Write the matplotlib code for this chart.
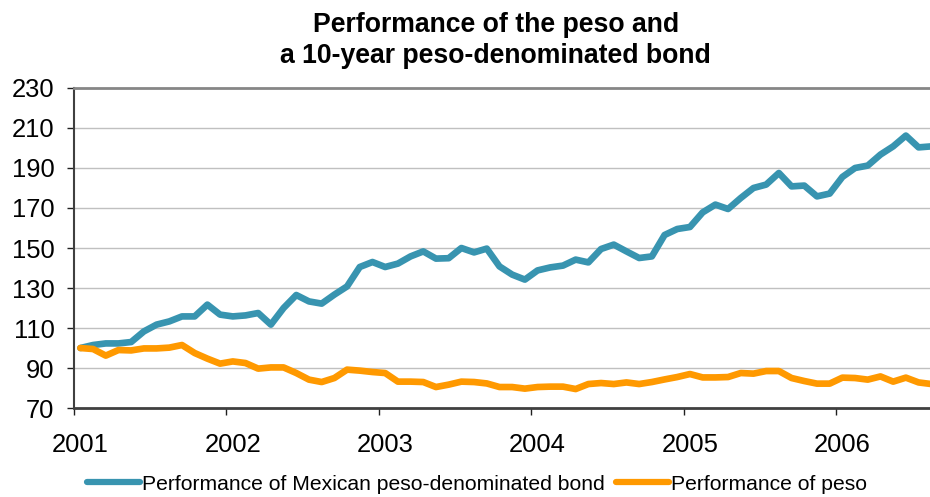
import matplotlib
matplotlib.use('Agg')
import matplotlib.pyplot as plt
import numpy as np

# monthly index values, Jan 2001 onwards
bond = [100.0, 101.5, 102.3, 102.3, 103.0, 108.3, 111.7, 113.3, 115.8, 115.8,
        121.7, 116.7, 115.8, 116.3, 117.5, 111.7, 120.0, 126.5, 123.3, 122.2,
        126.7, 130.8, 140.5, 143.0, 140.5, 142.2, 145.8, 148.3, 144.7, 144.9,
        150.0, 147.8, 149.7, 140.8, 136.7, 134.2, 138.8, 140.3, 141.2, 144.2,
        142.8, 149.5, 151.7, 148.3, 145.0, 145.8, 156.5, 159.5, 160.5, 167.8,
        171.7, 169.5, 175.0, 180.0, 181.7, 187.5, 180.8, 181.2, 175.8, 177.2,
        185.5, 190.0, 191.2, 196.7, 200.8, 206.2, 200.3, 200.8]
peso = [100.0, 99.5, 96.2, 99.0, 98.8, 99.8, 99.8, 100.2, 101.5, 97.5,
        94.7, 92.2, 93.3, 92.5, 89.7, 90.3, 90.3, 87.5, 84.2, 83.0,
        85.0, 89.2, 88.7, 88.0, 87.5, 83.2, 83.2, 83.0, 80.5, 81.7,
        83.2, 83.0, 82.3, 80.5, 80.5, 79.7, 80.5, 80.7, 80.7, 79.5,
        82.0, 82.5, 82.0, 82.8, 82.0, 83.0, 84.3, 85.5, 87.0, 85.3,
        85.3, 85.5, 87.5, 87.2, 88.5, 88.5, 85.0, 83.5, 82.2, 82.2,
        85.2, 85.0, 84.2, 85.8, 83.2, 85.2, 82.8, 82.0]
years = ['2001', '2002', '2003', '2004', '2005', '2006']
yticks = [70, 90, 110, 130, 150, 170, 190, 210, 230]

plt.rcParams['font.family'] = ['Liberation Sans', 'DejaVu Sans']

fig = plt.figure(figsize=(9.3, 4.97), dpi=100)
ax = fig.add_axes([0.0796, 0.179, 0.9204, 0.644])

x = np.arange(len(bond)) + 0.5
ax.plot(x, bond, color='#3894B0', lw=4.8, solid_joinstyle='round',
        solid_capstyle='round', label='Performance of Mexican peso-denominated bond')
ax.plot(x, peso, color='#FF9900', lw=4.8, solid_joinstyle='round',
        solid_capstyle='round', label='Performance of peso')

ax.set_xlim(0, 67.4)
ax.set_ylim(70, 230)
ax.set_yticks(yticks)
ax.set_yticklabels([str(v) for v in yticks], fontsize=18.4)
for v in yticks[1:-1]:
    ax.axhline(v, color='#C0C0C0', lw=1, zorder=0)

# year ticks at boundaries, labels under each January
starts = np.arange(len(years)) * 12
ax.set_xticks(starts)
ax.set_xticklabels([])
ax.set_xticks(starts + 0.5, minor=True)
ax.set_xticklabels(years, minor=True, fontsize=18.4)
ax.tick_params(axis='x', which='major', length=5, width=1, color='#202020', direction='out')
ax.tick_params(axis='x', which='minor', length=0, pad=18)
ax.tick_params(axis='y', length=5, width=1, color='#202020', pad=9)

ax.spines['right'].set_visible(False)
ax.spines['top'].set_color('#868686')
ax.spines['top'].set_linewidth(2)
ax.spines['bottom'].set_color('#404040')
ax.spines['bottom'].set_linewidth(2)
ax.spines['left'].set_color('#404040')
ax.spines['left'].set_linewidth(1.5)

fig.text(0.533, 0.936, 'Performance of the peso and', ha='center', va='baseline',
         fontsize=19.2, fontweight='bold')
fig.text(0.533, 0.873, 'a 10-year peso-denominated bond', ha='center', va='baseline',
         fontsize=19.2, fontweight='bold')

leg = fig.legend(loc='center', bbox_to_anchor=(0.513, 0.026), ncol=2, frameon=False,
                 fontsize=15.2, handlelength=2.5, handletextpad=0.12, columnspacing=0.5,
                 borderaxespad=0, borderpad=0)
for h in leg.get_lines():
    h.set_linewidth(4.5)
    h.set_solid_capstyle('round')

fig.savefig('out.png', dpi=100)
